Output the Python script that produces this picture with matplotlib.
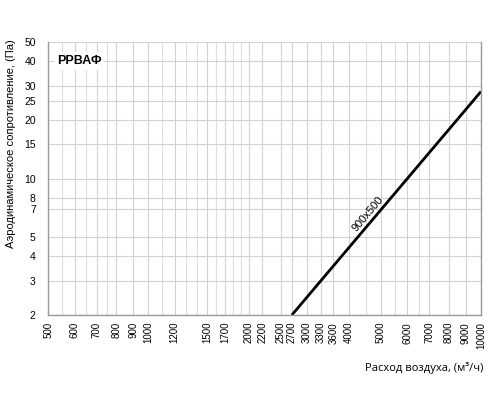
import matplotlib
matplotlib.use("Agg")
import matplotlib.pyplot as plt
from matplotlib.ticker import FixedLocator, NullFormatter
import numpy as np

# Data
flow = [2700, 10000]          # м³/ч
pressure = [2.0, 28.0]        # Па
series_label = "900x500"
title_label = "РРВАФ"

x_ticks = [500, 600, 700, 800, 900, 1000, 1200, 1500, 1700, 2000, 2200, 2500,
           2700, 3000, 3300, 3600, 4000, 5000, 6000, 7000, 8000, 9000, 10000]
x_minor = [550, 650, 750, 1100, 1300, 1400, 1600, 1800, 1900, 4500, 5500, 6500]
y_ticks = [2, 3, 4, 5, 7, 8, 10, 15, 20, 25, 30, 40, 50]

plt.rcParams['font.family'] = ['Liberation Sans', 'DejaVu Sans']

fig = plt.figure(figsize=(5, 4), dpi=100)
ax = fig.add_axes([0.0966, 0.2125, 0.8654, 0.6815])
ax.set_xscale('log')
ax.set_yscale('log')
ax.set_xlim(500, 10000)
ax.set_ylim(2, 50)

ax.xaxis.set_major_locator(FixedLocator(x_ticks))
ax.xaxis.set_minor_locator(FixedLocator(x_minor))
ax.xaxis.set_minor_formatter(NullFormatter())
ax.set_xticklabels([str(v) for v in x_ticks], rotation=90, fontsize=7)
ax.yaxis.set_major_locator(FixedLocator(y_ticks))
ax.yaxis.set_minor_locator(FixedLocator([]))
ax.set_yticklabels([str(v) for v in y_ticks], fontsize=7.5)
ax.tick_params(axis='x', which='both', length=0, pad=5)
ax.tick_params(axis='y', which='both', length=0, pad=9)

ax.grid(True, which='major', color='#d2d2d2', linewidth=0.8)
ax.grid(True, which='minor', axis='x', color='#dedede', linewidth=0.8)
ax.set_axisbelow(True)

ax.spines['top'].set_visible(False)
for side in ['left', 'bottom', 'right']:
    ax.spines[side].set_color('#9a9a9a')
    ax.spines[side].set_linewidth(1.0)

ax.plot(flow, pressure, color='black', lw=2, solid_capstyle='butt', clip_on=True)

# rotated series label along the line
fig.canvas.draw()
p0 = ax.transData.transform((flow[0], pressure[0]))
p1 = ax.transData.transform((flow[1], pressure[1]))
ang = np.degrees(np.arctan2(p1[1] - p0[1], p1[0] - p0[0]))
t = 0.43
xm = flow[0] * (flow[1] / flow[0]) ** t
ym = pressure[0] * (pressure[1] / pressure[0]) ** t
ax.annotate(series_label, (xm, ym), xytext=(-3.8, 3.8), textcoords='offset points',
            rotation=ang, rotation_mode='anchor', ha='center', va='center', fontsize=8)

ax.text(0.02, 0.931, title_label, transform=ax.transAxes, fontsize=9,
        fontweight='bold', ha='left', va='center',
        bbox=dict(facecolor='white', edgecolor='none', pad=2))

ax.set_ylabel("Аэродинамическое сопротивление, (Па)", fontsize=8)
ax.yaxis.set_label_coords(-0.075, 0.627)
fig.text(0.966, 0.08, "Расход воздуха, (м³/ч)", ha='right', va='center',
         fontsize=8, family=['Open Sans', 'DejaVu Sans'])

fig.savefig("out.png", dpi=100)
